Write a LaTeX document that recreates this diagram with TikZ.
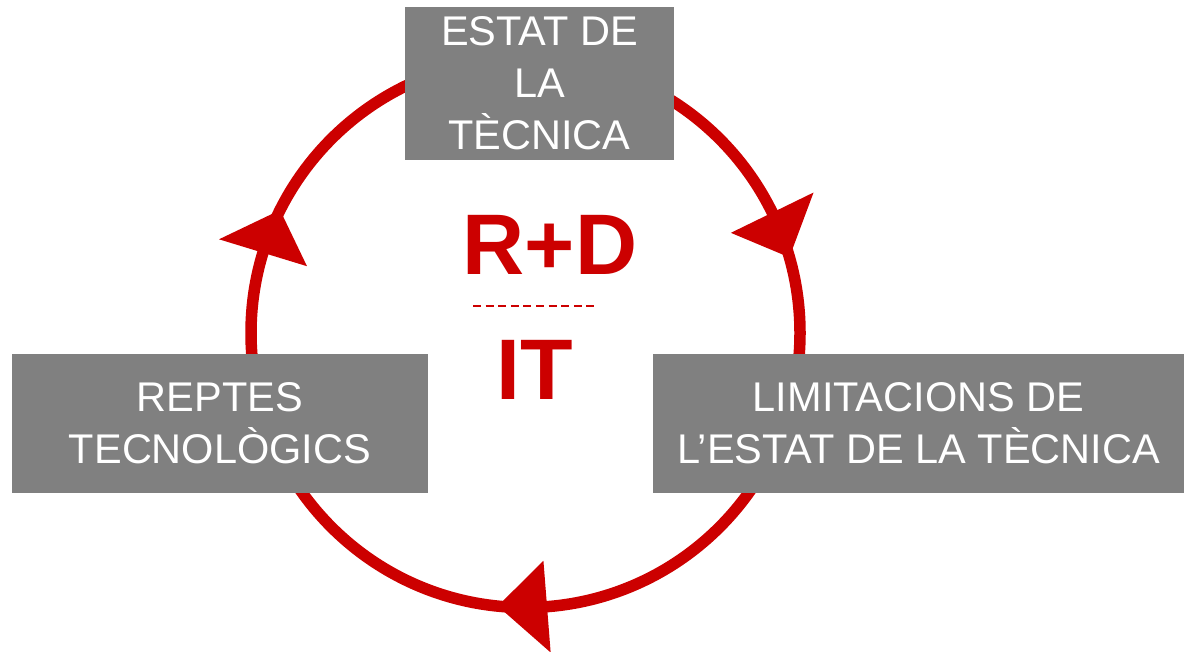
\documentclass[tikz,border=0pt]{standalone}
\usepackage{fontspec}
\setmainfont{Liberation Sans}
\usetikzlibrary{calc}
\definecolor{vermell}{HTML}{CC0000}
\definecolor{gris}{HTML}{808080}
\tikzset{
  caixa/.style={fill=gris, text=white, inner sep=0pt, align=center,
    font=\fontsize{41.5}{52}\selectfont},
  titol/.style={text=vermell, inner sep=0pt, font=\fontsize{86}{90}\selectfont\bfseries}
}
\begin{document}
\begin{tikzpicture}[x=1pt, y=-1pt, line join=round]
\def\r{274.5} \def\ri{228.5} \def\ro{320.5} % radis
\useasboundingbox (0,0) rectangle (1185,651);
\coordinate (c) at (525.5,333);
\draw[vermell, line width=11.5pt] (c) circle (\r);
\foreach \b/\t in {-26/-16, 85.5/95.8, -163/-153.4}
  \fill[vermell] ($(c)+(\b:\ri)$) -- ($(c)+(\t:\r)$) -- ($(c)+(\b:\ro)$) -- cycle;
\node[caixa, minimum width=269pt, minimum height=153pt] (estat) at (539.5,83.5)
  {ESTAT DE\\LA\\TÈCNICA};
\node[caixa, minimum width=416pt, minimum height=139pt] (reptes) at (220,423.5)
  {REPTES\\TECNOLÒGICS};
\node[caixa, minimum width=531pt, minimum height=139pt] (limit) at (918.5,423.5)
  {LIMITACIONS DE\\L’ESTAT DE LA TÈCNICA};
\node[titol] (rd) at (550,244.5) {R+D};
\node[titol] (it) at (535,369.5) {IT};
\draw[vermell, line width=2.5pt, dash pattern=on 8pt off 4.6pt] (473,306) -- (594,306);
\end{tikzpicture}
\end{document}
